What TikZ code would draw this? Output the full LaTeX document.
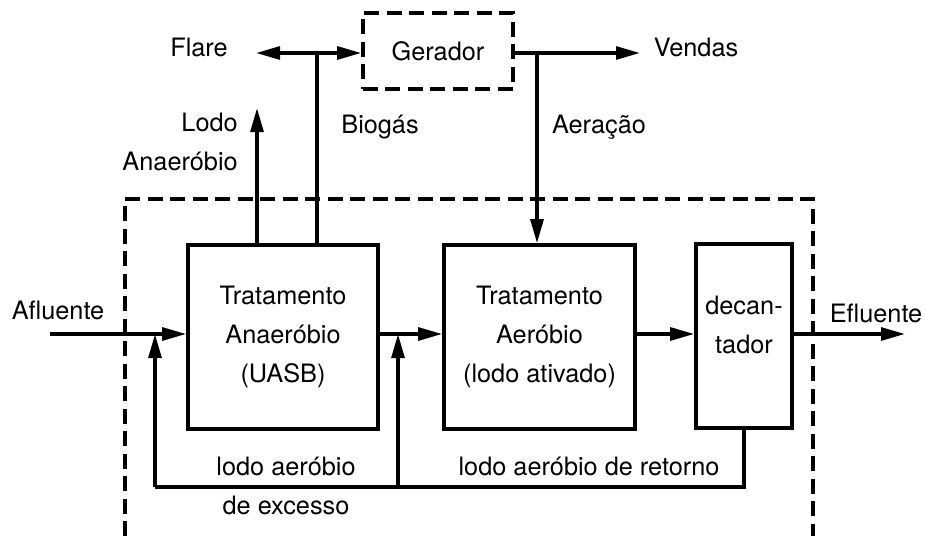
\documentclass[tikz,border=0pt]{standalone}
\usepackage{fontspec}
\setmainfont{TeX Gyre Heros}
\usetikzlibrary{arrows.meta}

\tikzset{
  unit/.style={draw, line width=2.5pt, minimum height=4.6cm, inner sep=0pt,
    align=center, font=\fontsize{18}{28}\selectfont},
  border/.style={line width=2.5pt, dash pattern=on 10.5pt off 5.5pt},
  pipe/.style={line width=2.5pt},
  flow/.style={line width=2.5pt, -{Triangle[length=0.6cm,width=0.32cm]}},
  lbl/.style={inner sep=0pt, align=center, font=\fontsize{18}{28}\selectfont}
}

\begin{document}
\begin{tikzpicture}[x=0.025cm, y=-0.025cm]
  \useasboundingbox (0,0) rectangle (925,536);

  % Draw plant boundary (open at the bottom)
  \draw[border] (125,536) -- (125,199) -- (813,199) -- (813,536);

  % Draw process units
  \node[unit, minimum width=4.75cm] (uasb) at (283,337) {Tratamento\\Anaeróbio\\(UASB)};
  \node[unit, minimum width=4.775cm] (aero) at (539.5,337) {Tratamento\\Aeróbio\\(lodo ativado)};
  \node[unit, minimum width=2.4cm] (dec) at (744,336) {};
  \node[lbl] (dectxt) at (744,325) {decan-\\tador};
  \node[unit, border, minimum width=3.75cm, minimum height=1.9cm] (ger) at (438,51) {Gerador};

  % Labels
  \node[lbl] (afl) at (58,310) {Afluente};
  \node[lbl] (efl) at (876,313) {Efluente};
  \node[lbl] (flare) at (199,47) {Flare};
  \node[lbl] (vendas) at (696,47) {Vendas};
  \node[lbl, align=right, anchor=east] (lodoana) at (238,142) {Lodo\\Anaeróbio};
  \node[lbl] (biogas) at (380,127) {Biogás};
  \node[lbl] (aer) at (599,127) {Aeração};
  \node[lbl] (excesso) at (286,486) {lodo aeróbio\\de excesso};
  \node[lbl] (retorno) at (589,466) {lodo aeróbio de retorno};

  % Main liquid line
  \coordinate (feed) at (50,334);
  \coordinate (out) at (905,334);
  \draw[flow] (feed) -- (feed -| uasb.west);
  \draw[flow] (uasb.east |- feed) -- (aero.west |- feed);
  \draw[flow] (aero.east |- feed) -- (dec.west |- feed);
  \draw[flow] (dec.east |- out) -- (out);

  % Biogas and sludge from the UASB
  \coordinate (gas) at (317,53);
  \coordinate (flaretip) at (256,53);
  \coordinate (sludgetip) at (257,108);
  \draw[pipe] (uasb.north -| gas) -- (gas);
  \draw[flow] (gas) -- (flaretip);
  \draw[flow] (gas) -- (ger.west |- gas);
  \draw[flow] (uasb.north -| sludgetip) -- (sludgetip);

  % Power from the generator
  \coordinate (air) at (537,53);
  \coordinate (sale) at (640,53);
  \draw[flow] (ger.east |- sale) -- (sale);
  \draw[flow] (air) -- (air |- aero.north);

  % Sludge return
  \coordinate (ret1) at (155,487);
  \coordinate (ret2) at (398,487);
  \draw[pipe] (dec.south) |- (ret1);
  \draw[flow] (ret1) -- (ret1 |- feed);
  \draw[flow] (ret2) -- (ret2 |- feed);
\end{tikzpicture}
\end{document}
